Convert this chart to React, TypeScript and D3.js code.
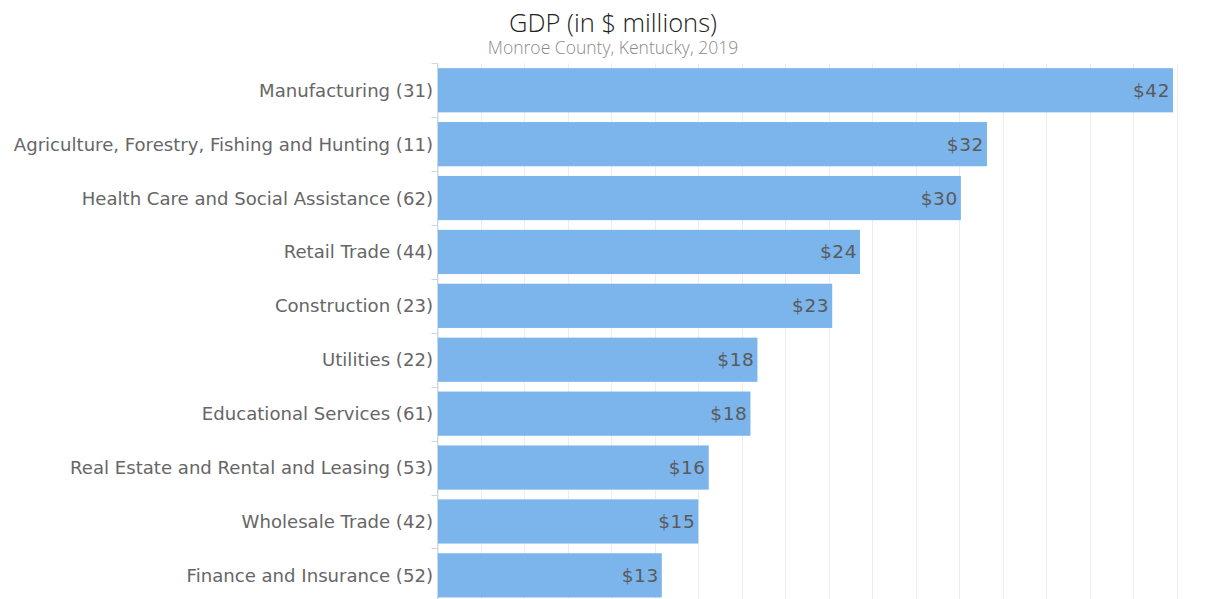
import React, { useRef, useEffect } from 'react';
import * as d3 from 'd3';

const categories = [
  'Manufacturing (31)',
  'Agriculture, Forestry, Fishing and Hunting (11)',
  'Health Care and Social Assistance (62)',
  'Retail Trade (44)',
  'Construction (23)',
  'Utilities (22)',
  'Educational Services (61)',
  'Real Estate and Rental and Leasing (53)',
  'Wholesale Trade (42)',
  'Finance and Insurance (52)'
];
const gdpValues = [42.3, 31.6, 30.1, 24.3, 22.7, 18.4, 18.0, 15.6, 15.0, 12.9];
const gridTicks = d3.range(0, 42.5 + 0.01, 2.5);

const W = 1207;
const H = 599;

export default () => {
  const svgRef = useRef<SVGSVGElement>(null);

  useEffect(() => {
    document.body.style.margin = '0';
    if (!svgRef.current) return;
    const svg = d3.select(svgRef.current);
    svg.selectAll('*').remove();

    const left = 437.5;
    const right = 1176.5;
    const top = 63.3;
    const bottom = top + 53.9 * categories.length;

    const x = d3.scaleLinear().domain([0, 42.5]).range([left, right]);
    const y = d3
      .scaleBand()
      .domain(categories)
      .range([top, bottom])
      .paddingInner(0.18)
      .paddingOuter(0.09);

    // gridlines
    svg
      .append('g')
      .selectAll('line')
      .data(gridTicks)
      .enter()
      .append('line')
      .attr('x1', (d: number) => Math.round(x(d)) + 0.5)
      .attr('x2', (d: number) => Math.round(x(d)) + 0.5)
      .attr('y1', top)
      .attr('y2', bottom)
      .style('stroke', '#ededed')
      .style('stroke-width', 1);

    // bars
    svg
      .append('g')
      .selectAll('rect')
      .data(gdpValues)
      .enter()
      .append('rect')
      .attr('x', x(0))
      .attr('y', (d: number, i: number) => y(categories[i]) as number)
      .attr('width', (d: number) => x(d) - x(0))
      .attr('height', y.bandwidth())
      .style('fill', '#7cb5ec');

    // value labels
    svg
      .append('g')
      .selectAll('text')
      .data(gdpValues)
      .enter()
      .append('text')
      .attr('x', (d: number) => x(d) - 3)
      .attr('y', (d: number, i: number) => (y(categories[i]) as number) + y.bandwidth() / 2 + 6.5)
      .attr('text-anchor', 'end')
      .style('font-family', '"DejaVu Sans", sans-serif')
      .style('font-size', '18.5px')
      .style('letter-spacing', '0.6px')
      .style('fill', '#5a5a5a')
      .text((d: number) => `$${Math.round(d)}`);

    // left axis
    const axis = svg.append('g');
    axis
      .append('line')
      .attr('x1', 437.5)
      .attr('x2', 437.5)
      .attr('y1', top)
      .attr('y2', bottom)
      .style('stroke', '#ccd6eb');
    const tickYs = d3.range(categories.length + 1).map((i) => top + i * y.step());
    axis
      .selectAll('line.tick')
      .data(tickYs)
      .enter()
      .append('line')
      .attr('class', 'tick')
      .attr('x1', 431.5)
      .attr('x2', 437.5)
      .attr('y1', (d: number) => Math.round(d) + 0.5)
      .attr('y2', (d: number) => Math.round(d) + 0.5)
      .style('stroke', '#ccd6eb');
    axis
      .selectAll('text')
      .data(categories)
      .enter()
      .append('text')
      .attr('x', 433)
      .attr('y', (d: string) => (y(d) as number) + y.bandwidth() / 2 + 6.5)
      .attr('text-anchor', 'end')
      .style('font-family', '"DejaVu Sans", sans-serif')
      .style('font-size', '18.1px')
      .style('fill', '#666666')
      .text((d: string) => d);

    // titles
    svg
      .append('text')
      .attr('x', 613)
      .attr('y', 32)
      .attr('text-anchor', 'middle')
      .style('font-family', '"Open Sans", sans-serif')
      .style('font-weight', 300)
      .style('font-size', '25.5px')
      .style('fill', '#222222')
      .text('GDP (in $ millions)');
    svg
      .append('text')
      .attr('x', 613)
      .attr('y', 54)
      .attr('text-anchor', 'middle')
      .style('font-family', '"Open Sans", sans-serif')
      .style('font-weight', 300)
      .style('font-size', '17.5px')
      .style('fill', '#8a8a8a')
      .text('Monroe County, Kentucky, 2019');
  }, []);

  return (
    <div style={{ width: W, height: H, overflow: 'hidden' }}>
      <svg width={W} height={H} ref={svgRef} style={{ display: 'block', background: '#fff' }} />
    </div>
  );
};
